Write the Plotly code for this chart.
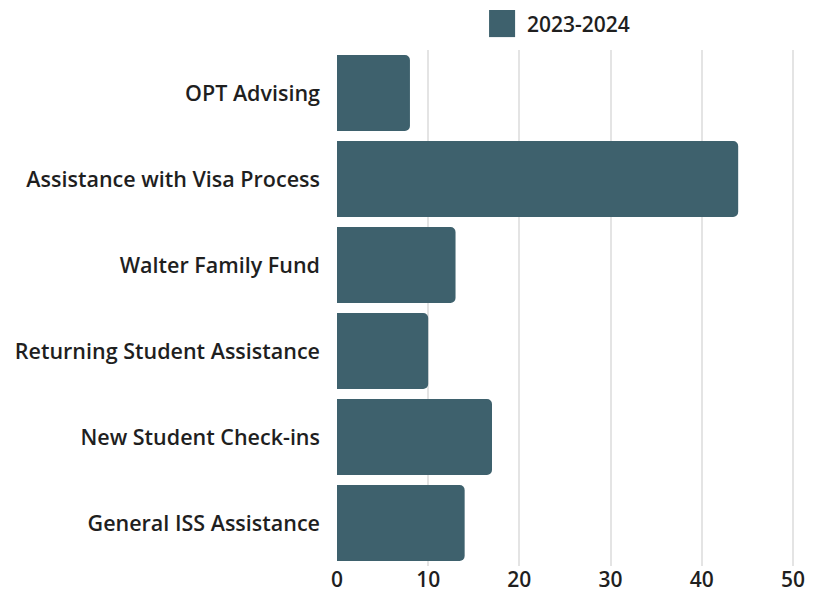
import plotly.graph_objects as go

# Services counted for the 2023-2024 year
categories = [
    "OPT Advising",
    "Assistance with Visa Process",
    "Walter Family Fund",
    "Returning Student Assistance",
    "New Student Check-ins",
    "General ISS Assistance",
]
values = [8, 44, 13, 10, 17, 14]
series_name = "2023-2024"
x_ticks = [0, 10, 20, 30, 40, 50]

bar_color = "#3e616d"
text_color = "#1f1f1f"

fig = go.Figure()
fig.add_trace(go.Bar(
    x=values,
    y=categories,
    orientation="h",
    name=series_name,
    marker=dict(color=bar_color, line=dict(width=0)),
    showlegend=False,
))

# Custom legend entry: a large swatch with the series name beside it
fig.add_shape(
    type="rect", xref="paper", yref="paper",
    x0=0.327, x1=0.383, y0=1.025, y1=1.0775,
    fillcolor=bar_color, line=dict(width=0),
)
fig.add_annotation(
    x=0.404, y=1.051, xref="paper", yref="paper",
    text=series_name, showarrow=False, xanchor="left", yanchor="middle",
    font=dict(family="Open Sans", size=21, color=text_color, weight=600),
)

fig.update_layout(
    width=821, height=593,
    margin=dict(l=337, r=19, t=50, b=27),
    paper_bgcolor="white", plot_bgcolor="white",
    bargap=0.116,
    barcornerradius=5,
    font=dict(family="Open Sans", color=text_color),
)
fig.update_xaxes(
    range=[0, 51],
    tickvals=x_ticks,
    showgrid=True, gridcolor="#e4e4e4", gridwidth=2,
    zeroline=False, showline=False,
    tickfont=dict(size=21, family="Open Sans", weight=600),
    ticks="", ticklabelstandoff=-1,
    automargin=False,
)
fig.update_yaxes(
    categoryorder="array", categoryarray=categories,
    autorange="reversed",
    showgrid=False, zeroline=False, showline=False,
    tickfont=dict(size=21.5, family="Open Sans", weight=600),
    ticks="", ticklabelstandoff=16,
    automargin=False,
)

fig.write_html("out.html")
